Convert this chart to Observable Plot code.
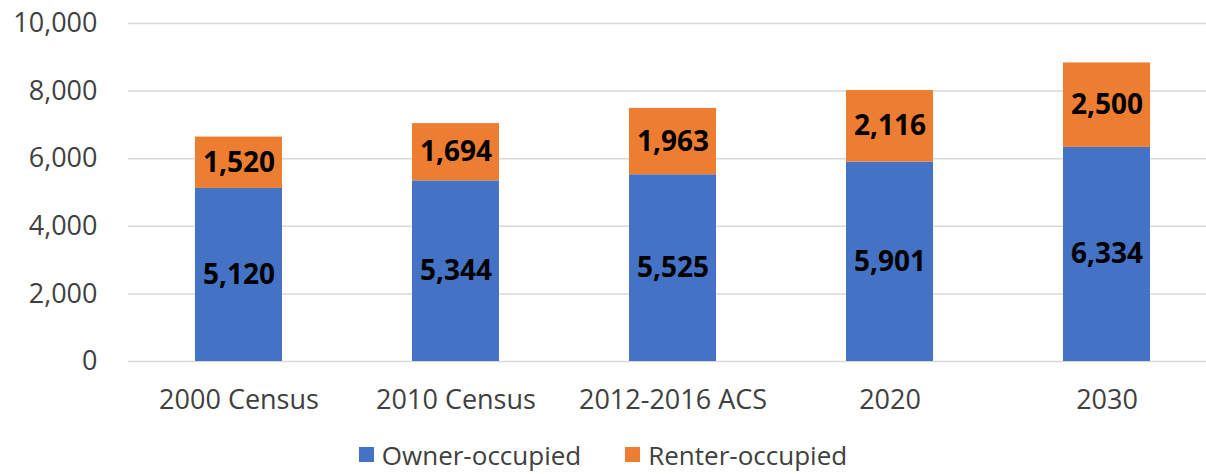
<!DOCTYPE html>
<html>
<head>
<meta charset="utf-8">
<script src="https://cdn.jsdelivr.net/npm/d3@7"></script>
<script src="https://cdn.jsdelivr.net/npm/@observablehq/plot@0.6"></script>
<style>
  html, body { margin: 0; background: #fff; font-family: "Open Sans", sans-serif; overflow: hidden; }
  #chart svg { display: block; }
  #legend { position: absolute; left: 0; top: 450px; width: 1206px; height: 22px; display: flex; justify-content: center; align-items: center; line-height: 22px; }
  .lg-swatches { justify-content: center; margin-left: 0 !important; min-height: 0 !important; line-height: 22px; height: 22px; }
  .lg-swatch { margin-right: 44px !important; line-height: 22px; height: 22px; }
  .lg-swatch:last-child { margin-right: 0 !important; }
  .lg-swatch > svg { margin-right: 8px !important; }
</style>
</head>
<body>
<div id="chart"></div>
<div id="legend"></div>
<script>
const categories = ["2000 Census", "2010 Census", "2012-2016 ACS", "2020", "2030"];
const ownerOccupied = [5120, 5344, 5525, 5901, 6334];
const renterOccupied = [1520, 1694, 1963, 2116, 2500];
const seriesNames = ["Owner-occupied", "Renter-occupied"];
const seriesColors = ["#4472C4", "#ED7D31"];
const yTicks = [0, 2000, 4000, 6000, 8000, 10000];

const data = [];
categories.forEach((c, i) => {
  data.push({category: c, series: seriesNames[0], value: ownerOccupied[i]});
  data.push({category: c, series: seriesNames[1], value: renterOccupied[i]});
});

const fmt = d3.format(",");
const FONT = "Open Sans, sans-serif";

const chart = Plot.plot({
  width: 1206,
  height: 440,
  marginTop: 23,
  marginBottom: 79,
  marginLeft: 128,
  marginRight: 0,
  style: {fontFamily: FONT, fontSize: "27px", color: "#404040", background: "#fff"},
  x: {domain: categories, range: [128.25, 1215.75], paddingInner: 0.6, paddingOuter: 0.3, label: null},
  y: {domain: [0, 10000], label: null},
  color: {domain: seriesNames, range: seriesColors},
  marks: [
    Plot.gridY(yTicks, {stroke: "#d9d9d9", strokeOpacity: 1, strokeWidth: 1.5}),
    Plot.axisY(yTicks, {tickSize: 0, tickPadding: 31, tickFormat: fmt, fontSize: 27, fill: "#404040"}),
    Plot.axisX({tickSize: 0, tickPadding: 28, fontSize: 27, fill: "#404040"}),
    Plot.barY(data, {x: "category", y: "value", fill: "series", order: seriesNames}),
    Plot.text(data, Plot.stackY({x: "category", y: "value", z: "series", order: seriesNames,
      text: d => fmt(d.value), fontWeight: "bold", fontSize: 28, fill: "#000"}))
  ]
});
document.getElementById("chart").appendChild(chart);

const legend = Plot.legend({
  color: {domain: seriesNames, range: seriesColors},
  legend: "swatches",
  swatchSize: 15,
  className: "lg",
  style: {fontFamily: FONT, fontSize: "26px", color: "#404040"}
});
document.getElementById("legend").appendChild(legend);
</script>
</body>
</html>
